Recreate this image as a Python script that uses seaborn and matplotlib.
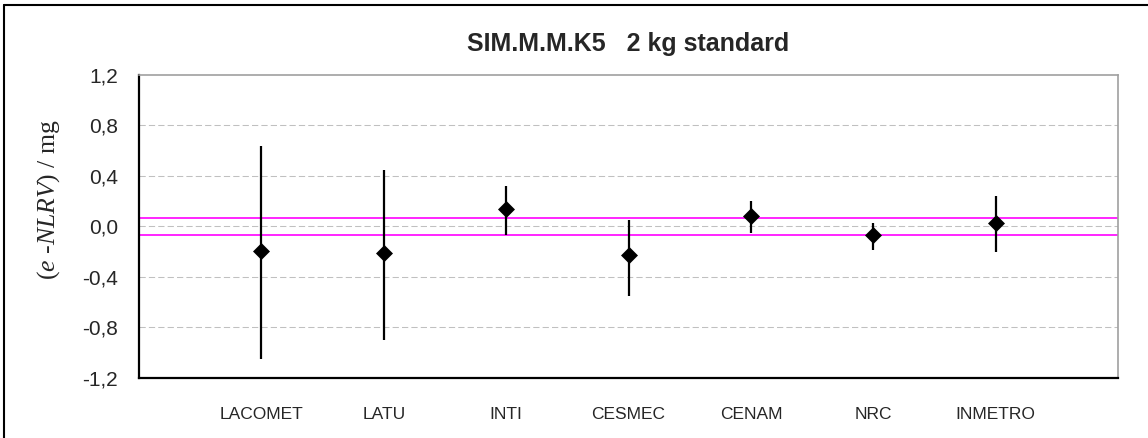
import matplotlib.pyplot as plt
from matplotlib.lines import Line2D
from matplotlib.ticker import FuncFormatter
import numpy as np
import pandas as pd
import seaborn as sns

# lab names and results
labs = ["LACOMET", "LATU", "INTI", "CESMEC", "CENAM", "NRC", "INMETRO"]
diff = [-0.195, -0.215, 0.14, -0.23, 0.082, -0.068, 0.027]
upper = [0.64, 0.45, 0.32, 0.05, 0.20, 0.03, 0.24]
lower = [-1.05, -0.90, -0.07, -0.55, -0.055, -0.19, -0.20]
ref_band = [0.068, -0.068]
yticks = [-1.2, -0.8, -0.4, 0.0, 0.4, 0.8, 1.2]

df = pd.DataFrame({"lab": labs, "diff": diff, "lo": lower, "hi": upper})
df["pos"] = np.arange(1, len(labs) + 1)

sns.set_style("white")
plt.rcParams["font.family"] = ["Liberation Sans", "DejaVu Sans"]
plt.rcParams["mathtext.fontset"] = "custom"
plt.rcParams["mathtext.it"] = "Liberation Serif:italic"
plt.rcParams["mathtext.rm"] = "Liberation Serif"

fig = plt.figure(figsize=(11.48, 4.38), dpi=100)
ax = fig.add_axes([139 / 1148, 1 - 377.7 / 438, (1118 - 139) / 1148, (377.7 - 75) / 438])

# dashed grid
for v in yticks[1:-1]:
  ax.axhline(v, color="#c0c0c0", lw=0.75, linestyle=(0, (6, 3)), zorder=1)

# reference band
for v in ref_band:
  ax.axhline(v, color="#ff00ff", lw=1.2, zorder=2)

ax.vlines(df["pos"], df["lo"], df["hi"], color="black", lw=1.6, zorder=3)
sns.scatterplot(data=df, x="pos", y="diff", marker="D", s=75, color="black",
                edgecolor="black", linewidth=0, zorder=4, ax=ax)

ax.set_xlim(0, len(labs) + 1)
ax.set_ylim(yticks[0], yticks[-1])
ax.set_yticks(yticks)
ax.yaxis.set_major_formatter(FuncFormatter(lambda v, p: f"{v:.1f}".replace(".", ",")))
ax.set_xticks(df["pos"])
ax.set_xticklabels(labs, fontsize=12.5)
ax.tick_params(axis="y", length=0, pad=15, labelsize=15)
ax.tick_params(axis="x", length=0, pad=21)
ax.set_xlabel("")

ax.set_ylabel(r"($e$ -$NLRV$) / mg", family="Liberation Serif", fontsize=18.5)
ax.yaxis.set_label_coords(-0.079, 0.59)

ax.spines[["left", "bottom"]].set_linewidth(1.6)
ax.spines[["left", "bottom"]].set_color("black")
ax.spines[["top", "right"]].set_linewidth(1.2)
ax.spines[["top", "right"]].set_color("#a0a0a0")

fig.text(628 / 1148, 1 - 44 / 438, "SIM.M.M.K5   2 kg standard", ha="center", va="center",
         fontsize=18, fontweight="bold")

# outer chart frame (only left and top edges fall inside the picture)
fig.add_artist(Line2D([4 / 1148, 4 / 1148], [0, 1 - 4.5 / 438], color="black", lw=1.5))
fig.add_artist(Line2D([4 / 1148, 1], [1 - 4.5 / 438, 1 - 4.5 / 438], color="black", lw=1.5))

fig.savefig("out.png", dpi=100)
